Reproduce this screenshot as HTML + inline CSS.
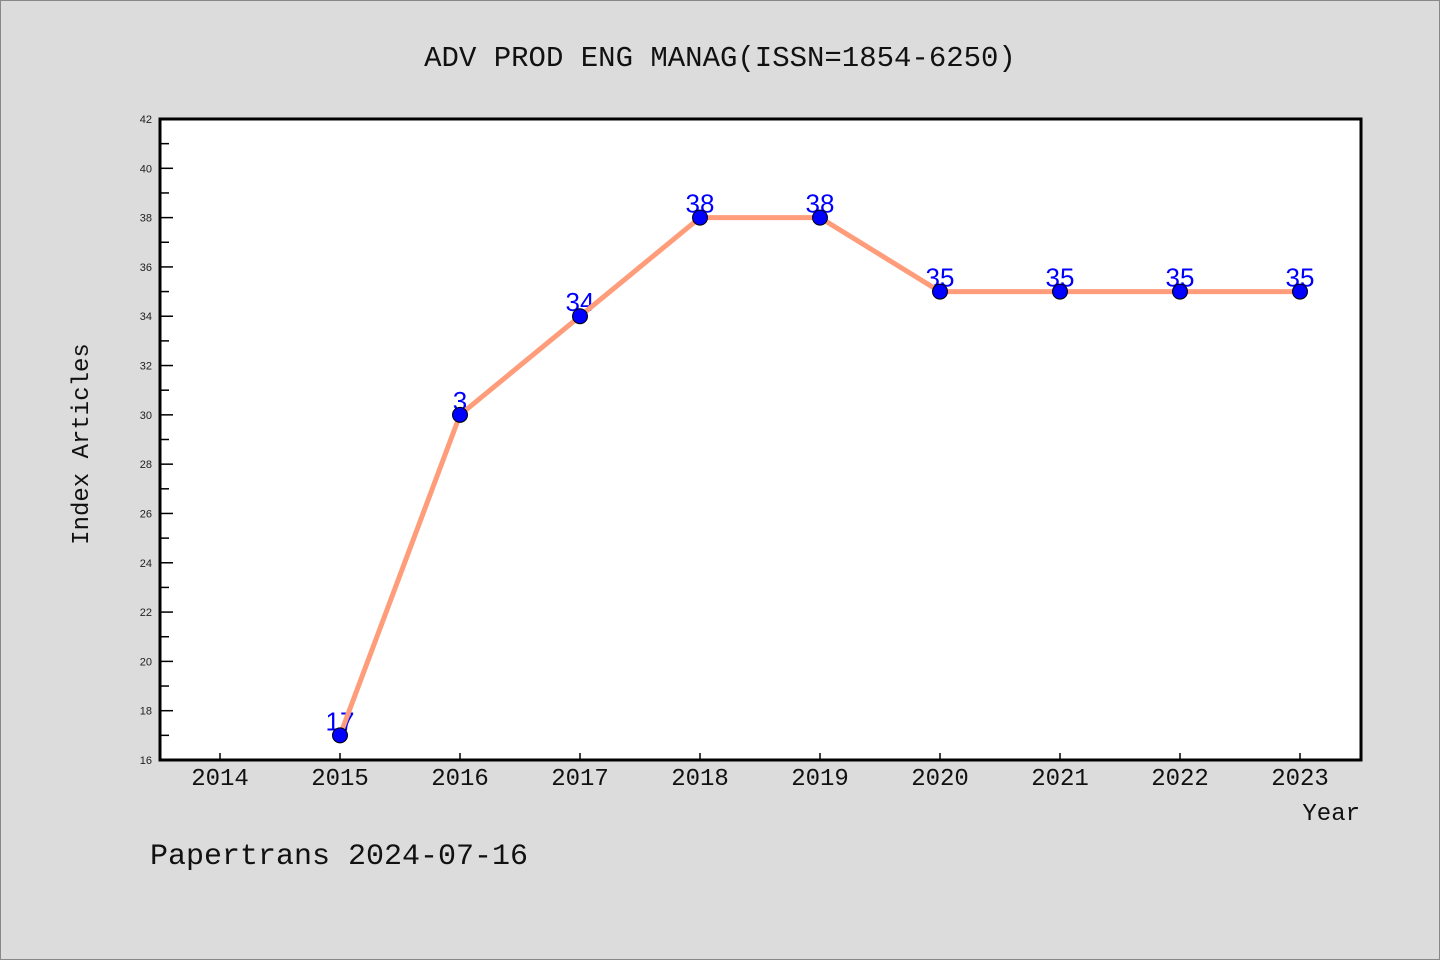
<!DOCTYPE html>
<html><head><meta charset="utf-8"><style>
body{margin:0;background:#dcdcdc;}
svg{display:block}
</style></head><body>
<svg width="1440" height="960" xmlns="http://www.w3.org/2000/svg">
<rect x="0.5" y="0.5" width="1439" height="959" fill="#dcdcdc" stroke="#888"/>
<text x="720" y="66" text-anchor="middle" font-family="Liberation Mono, monospace" font-size="29" fill="#111">ADV PROD ENG MANAG(ISSN=1854-6250)</text>
<rect x="160" y="119" width="1201" height="641" fill="#fff"/>
<g id="yaxis"></g><g id="xaxis"></g><g id="labels"></g><g id="series"></g>
<rect x="160" y="119" width="1201" height="641" fill="none" stroke="#000" stroke-width="3"/>
<text transform="translate(88,444) rotate(-90)" text-anchor="middle" font-family="Liberation Mono, monospace" font-size="24" fill="#111">Index Articles</text>
<text x="1360" y="820" text-anchor="end" font-family="Liberation Mono, monospace" font-size="24" fill="#111">Year</text>
<text x="150" y="864" font-family="Liberation Mono, monospace" font-size="30" fill="#111">Papertrans 2024-07-16</text>
</svg>
<script>
const categories=[2014,2015,2016,2017,2018,2019,2020,2021,2022,2023];
const seriesYears=[2015,2016,2017,2018,2019,2020,2021,2022,2023];
const seriesValues=[17,30,34,38,38,35,35,35,35];
const valueLabels=["17","3","34","38","38","35","35","35","35"];
const yTicks=[16,18,20,22,24,26,28,30,32,34,36,38,40,42];
const NS="http://www.w3.org/2000/svg";
const X=v=>160+(v-2013.5)*120;
const Y=v=>760-(v-16)*(641/26);
function mk(t,a,p){const e=document.createElementNS(NS,t);for(const k in a)e.setAttribute(k,a[k]);p.appendChild(e);return e;}
const ya=document.getElementById('yaxis');
for(let v=16;v<=42;v++){
  const major=yTicks.includes(v);
  const l=mk('line',{x1:160,x2:major?173:169,y1:Y(v),y2:Y(v),stroke:'#000','stroke-width':1.5},ya);
  
  
}
yTicks.forEach(v=>{
  const t=mk('text',{x:152,y:Y(v)+4,'text-anchor':'end','font-family':'Liberation Sans, sans-serif','font-size':11,fill:'#222'},ya);
  t.textContent=v;
  
  
});
const xa=document.getElementById('xaxis');
categories.forEach(c=>{
  const l=mk('line',{x1:X(c),x2:X(c),y1:760,y2:753,stroke:'#000','stroke-width':1.5},xa);
  
  
  const t=mk('text',{x:X(c),y:785,'text-anchor':'middle','font-family':'Liberation Mono, monospace','font-size':24,fill:'#111'},xa);
  t.textContent=c;
  
  
});
const lg=document.getElementById('labels');
seriesYears.forEach((c,i)=>{
  const t=mk('text',{x:X(c),y:Y(seriesValues[i])-5,'text-anchor':'middle','font-family':'Liberation Sans, sans-serif','font-size':26,fill:'#0000ff'},lg);
  t.textContent=valueLabels[i];
  
  
});
const sg=document.getElementById('series');
const pl=mk('polyline',{points:seriesYears.map((c,i)=>X(c)+','+Y(seriesValues[i])).join(' '),fill:'none',stroke:'#ff9c7a','stroke-width':5},sg);


seriesYears.forEach((c,i)=>{
  const p=mk('circle',{cx:X(c),cy:Y(seriesValues[i]),r:7.5,fill:'#0000ff',stroke:'#000','stroke-width':1},sg);
  
  
});
</script>
</body></html>
